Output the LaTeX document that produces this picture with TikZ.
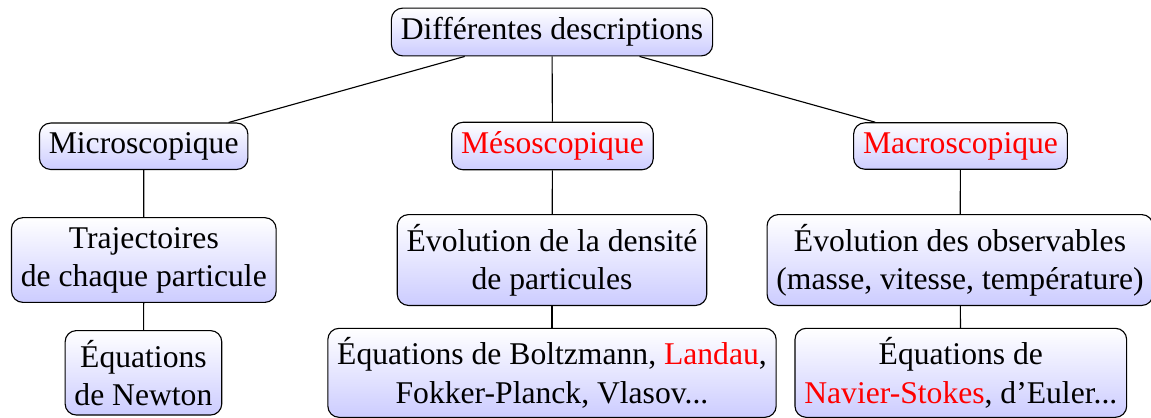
\documentclass[tikz,border=0pt]{standalone}
\usepackage{fontspec}
\setmainfont{Liberation Serif}
\usepackage{tikz}

\begin{document}
\begin{tikzpicture}[descr/.style={draw, rounded corners, top color=white, bottom color=blue!20, align=center, font=\fontsize{11.25}{13.6}\selectfont}]
		\useasboundingbox (0,0) rectangle (14.3875,-5.2125);

		\draw (6.9,-0.4) node [descr] (desc) {Différentes descriptions};

		\draw (1.796,-1.828) node [descr] (micro) {Microscopique};
		\draw (6.906,-1.825) node [descr] (meso) {\textcolor{red}{Mésoscopique}};
		\draw (12.006,-1.825) node [descr] (macro) {\textcolor{red}{Macroscopique}};

		\draw (1.798,-3.25) node [descr] (traj) {Trajectoires\\de chaque particule};
		\draw (6.9,-3.25) node [descr] (dens) {Évolution de la densité\\de particules};
		\draw (12.0,-3.25) node [descr] (obs) {Évolution des observables\\(masse, vitesse, température)};

		\draw (1.793,-4.66) node [descr] (newton) {Équations\\de Newton};
		\draw (6.9,-4.66) node [descr] (boltz) {Équations de Boltzmann, \textcolor{red}{Landau},\\Fokker-Planck, Vlasov...};
		\draw (12.01,-4.66) node [descr] (navier) {Équations de\\\textcolor{red}{Navier-Stokes}, d’Euler...};

		\draw
			(desc) edge (micro)
			(desc) edge (meso)
			(desc) edge (macro)
			(micro) edge (traj)
			(meso) edge (dens)
			(macro) edge (obs)
			(traj) edge (newton)
			(dens) edge (boltz)
			(obs) edge (navier)
		;
	\end{tikzpicture}
\end{document}
